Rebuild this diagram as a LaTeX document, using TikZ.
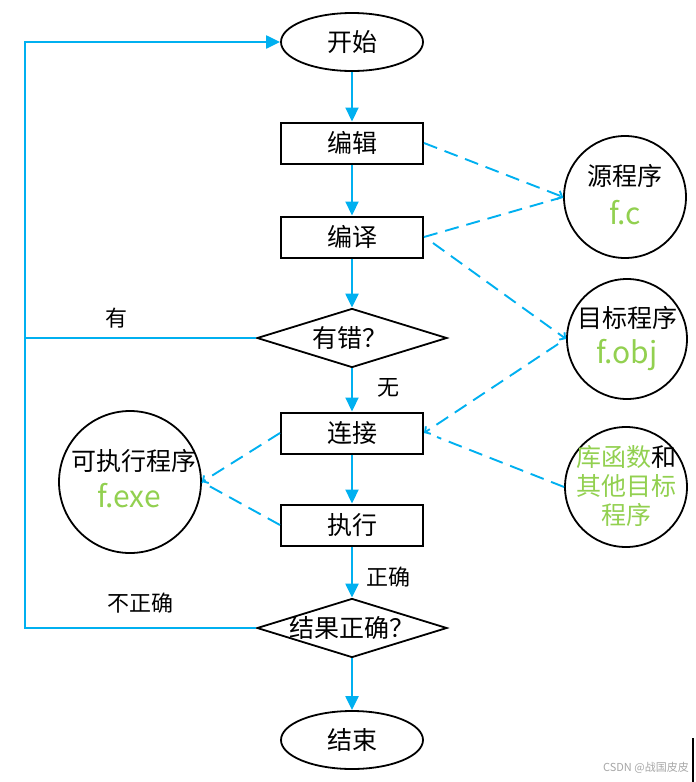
\documentclass[tikz,border=0pt]{standalone}
\usepackage{fontspec}
\setmainfont{Noto Sans CJK SC}
\usetikzlibrary{shapes.geometric,arrows.meta,calc}
\definecolor{flowblue}{HTML}{00B0F0}
\definecolor{filegreen}{HTML}{92D050}
\tikzset{
  term/.style={draw=black,line width=1.8pt,ellipse,minimum width=142pt,minimum height=58pt,inner sep=0pt,font=\fontsize{25}{29}\selectfont},
  procbox/.style={draw=black,line width=2pt,rectangle,minimum width=142pt,minimum height=41pt,inner sep=0pt,font=\fontsize{25}{29}\selectfont},
  decis/.style={draw=black,line width=1.8pt,diamond,minimum width=190pt,minimum height=59pt,inner sep=0pt},
  filecirc/.style={draw=black,line width=1.8pt,ellipse,inner sep=0pt},
  flow/.style={draw=flowblue,line width=2.2pt,-{Triangle[length=14pt,width=13pt]}},
  flowline/.style={draw=flowblue,line width=2.2pt},
  dataline/.style={draw=flowblue,line width=1.9pt,dash pattern=on 14pt off 8pt},
  datatip/.style={dataline,-{Straight Barb[length=4pt,width=9pt]}},
  lbl/.style={font=\fontsize{22}{26}\selectfont,inner sep=0pt},
  dtext/.style={font=\fontsize{25}{29}\selectfont,inner sep=0pt},
  ftext/.style={font=\fontsize{30}{33}\selectfont,text=filegreen,inner sep=0pt},
}
\begin{document}
\begin{tikzpicture}[x=1pt,y=-1pt]
\useasboundingbox (0,0) rectangle (696,782);
% main column
\node[term] (start) at (352,42) {开始};
\node[procbox] (bj) at (352,143) {编辑};
\node[procbox] (by) at (352,237) {编译};
\node[decis] (d1) at (352,338) {};
\node[dtext] (d1t) at (350,338) {有错？};
\node[procbox] (lj) at (352,433) {连接};
\node[procbox] (zx) at (352,525) {执行};
\node[decis] (d2) at (352,628) {};
\node[dtext] (d2t) at (352,628) {结果正确？};
\node[term] (end) at (352,740) {结束};
% file circles
\node[filecirc,minimum width=122pt,minimum height=122pt] (src) at (625,197) {};
\node[dtext] (srct) at (625,176) {源程序};
\node[ftext] (srcf) at (625,213) {f.c};
\node[filecirc,minimum width=120pt,minimum height=120pt] (obj) at (627,339) {};
\node[dtext] (objt) at (627,318) {目标程序};
\node[ftext] (objf) at (627,355) {f.obj};
\node[filecirc,minimum width=122pt,minimum height=120pt] (lib) at (626,487) {};
\node[dtext,align=center] (libt) at (626,486) {\textcolor{filegreen}{库函数}和\\[0pt]\textcolor{filegreen}{其他目标}\\[0pt]\textcolor{filegreen}{程序}};
\node[filecirc,minimum width=142pt,minimum height=142pt] (exe) at (130,482) {};
\node[dtext] (exet) at (134,461) {可执行程序};
\node[ftext] (exef) at (129,496) {f.exe};
% left loop coordinates
\coordinate (c1) at (25,42);
\coordinate (c2) at (25,338);
\coordinate (c3) at (25,628);
% flow arrows
\draw[flow] (start) -- (bj);
\draw[flow] (bj) -- (by);
\draw[flow] (by) -- (d1);
\draw[flow] (d1) -- (lj);
\draw[flow] (lj) -- (zx);
\draw[flow] (zx) -- (d2);
\draw[flow] (d2) -- (end);
\draw[flow] (d2.west) -- (c3) -- (c1) -- (start.west);
\draw[flowline] (d1.west) -- (c2);
% labels
\node[lbl] (lyou) at (116,318) {有};
\node[lbl] (lwu) at (388,388) {无};
\node[lbl] (lzq) at (388,577) {正确};
\node[lbl] (lbzq) at (140,603) {不正确};
% data lines
\draw[datatip] (bj.east) -- (src.west);
\draw[dataline] (by.east) -- (src.west);
\draw[datatip] ($(by.east)+(9,6)$) -- (obj.west);
\draw[datatip] ($(obj.west)+(-8,5)$) -- (lj.east);
\draw[dataline] (lib.west) -- ($(lj.east)+(13,4)$);
\draw[datatip] (lj.west) -- (exe.east);
\draw[dataline] (zx.west) -- (exe.east);
% watermark
\node[font=\fontsize{11}{13}\selectfont,text=black!35,inner sep=0pt,anchor=east] (wm) at (689,768) {CSDN @战国皮皮};
\coordinate (e1) at (693,738);
\coordinate (e2) at (693,782);
\draw[line width=1.5pt] (e1) -- (e2);
\end{tikzpicture}
\end{document}
